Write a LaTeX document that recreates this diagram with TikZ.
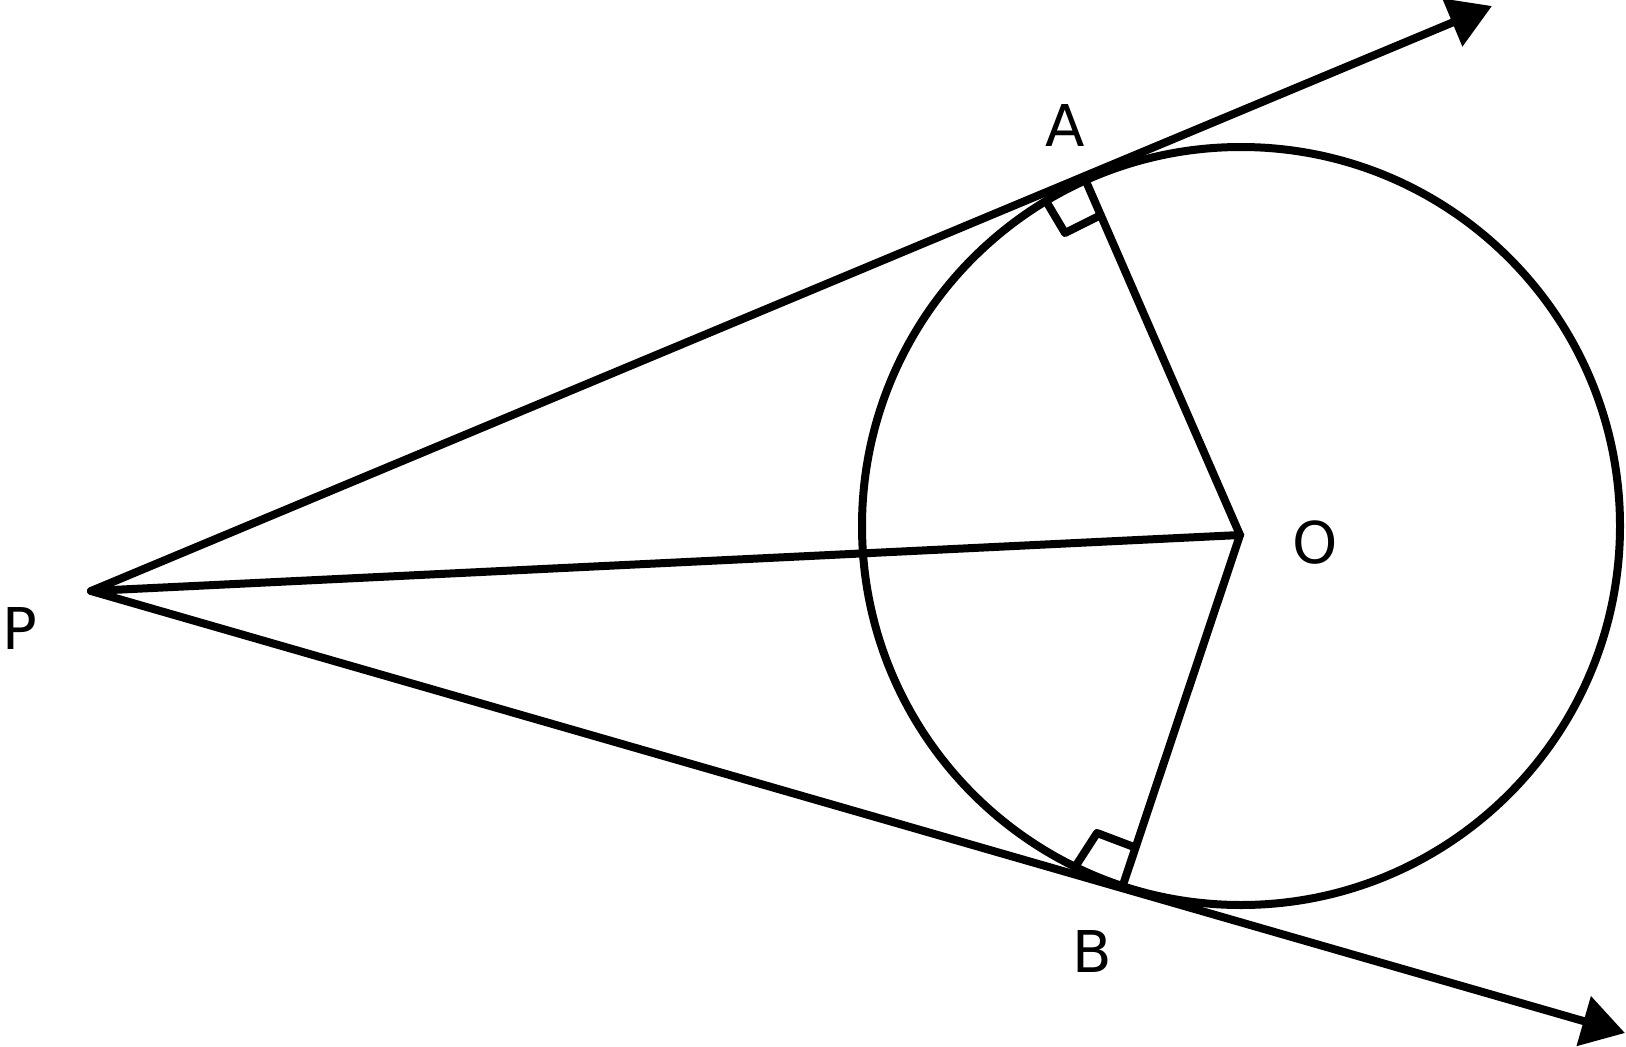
\documentclass[tikz,border=0pt]{standalone}
\usepackage{fontspec}
\setmainfont{DejaVu Sans}
\usetikzlibrary{arrows.meta}
\begin{document}
\begin{tikzpicture}[x=1pt,y=-1pt,
  geo/.style={line width=8pt, line cap=round, line join=round},
  ray/.style={geo, -{Triangle[length=43pt,width=50pt]}},
  rmark/.style={line width=8pt, line join=round, line cap=butt},
  lab/.style={inner sep=0pt, font=\fontsize{57.6}{70}\selectfont}]
\useasboundingbox (0,0) rectangle (1626,1047);
\coordinate (P) at (91,591);
\coordinate (C) at (1241,526);
\coordinate (O) at (1240,535);
\coordinate (A) at (1085,179);
\coordinate (B) at (1123,885);
\coordinate (TA) at (1492,6);
\coordinate (TB) at (1625,1033);
\coordinate (a1) at (1046,201);
\coordinate (a2) at (1065,233);
\coordinate (a3) at (1099,216);
\coordinate (b1) at (1077,864);
\coordinate (b2) at (1097,833);
\coordinate (b3) at (1134,847);
\draw[geo] (C) circle[radius=379pt];
\draw[ray] (P) -- (TA);
\draw[ray] (P) -- (TB);
\draw[geo] (P) -- (O);
\draw[geo, line join=miter] (A) -- (O) -- (B);
\draw[rmark] (a1) -- (a2) -- (a3);
\draw[rmark] (b1) -- (b2) -- (b3);
\node[lab] (lA) at (1065,126) {A};
\node[lab] (lB) at (1092,951) {B};
\node[lab] (lP) at (20,628) {P};
\node[lab] (lO) at (1315,543) {O};
\end{tikzpicture}
\end{document}
